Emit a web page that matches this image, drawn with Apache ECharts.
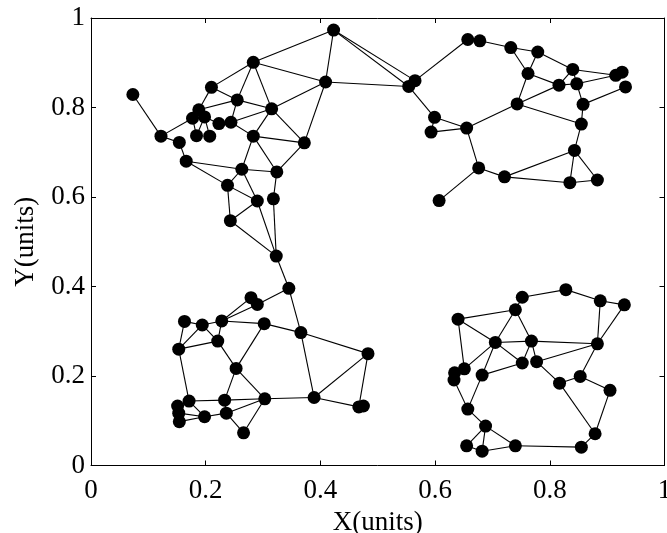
<!DOCTYPE html>
<html>
<head>
<meta charset="utf-8">
<script src="https://cdn.jsdelivr.net/npm/echarts@6/dist/echarts.min.js"></script>
<style>
  html, body { margin: 0; padding: 0; background: #fff; }
  #chart { width: 667px; height: 533px; }
</style>
</head>
<body>
<div id="chart"></div>
<script>
// Sensor node ids and their positions (units)
const nodeNames = [
  'A','B','C','D','E','F','G','H','I','J','K','L','M','N','O','P','Q','R','S','T','U','V','W','X','Y','Z',
  'x1','x2','a','b','c','d','e','f','g','h','i','j','k','l','m','n','o','p','q','r','s','t','u','v','w',
  'aa','bb','cc','dd','ee','ff','gg','hh','ii','jj','kk','ll','mm','nn','oo','pp','qq','rr','ss','tt','uu','vv','ww','xx',
  'A1','A2','A3','A4','A5','A6','A7','A8','A9','A10','A11','A12','A13a','A13b','A14','A15','A16','A17','A18','A19','A20','A21','A22','A23','A24'
];
const nodeX = [
  0.073,0.122,0.154,0.166,0.184,0.207,0.177,0.188,0.198,0.223,0.244,0.210,0.255,0.283,0.315,0.283,0.372,0.409,0.423,0.263,0.324,0.238,0.290,0.318,0.243,0.323,
  0.554,0.565,0.657,0.678,0.732,0.779,0.762,0.840,0.816,0.847,0.915,0.926,0.932,0.858,0.743,0.855,0.843,0.835,0.883,0.721,0.676,0.607,0.655,0.599,0.593,
  0.345,0.279,0.290,0.163,0.194,0.228,0.302,0.153,0.221,0.366,0.483,0.253,0.171,0.233,0.303,0.389,0.151,0.153,0.154,0.198,0.236,0.266,0.467,0.475,
  0.828,0.752,0.888,0.930,0.740,0.640,0.705,0.768,0.883,0.752,0.777,0.651,0.634,0.633,0.682,0.853,0.817,0.905,0.657,0.688,0.879,0.655,0.682,0.740,0.855
];
const nodeY = [
  0.829,0.736,0.722,0.680,0.737,0.736,0.776,0.795,0.779,0.764,0.767,0.845,0.817,0.901,0.797,0.736,0.721,0.857,0.973,0.662,0.656,0.626,0.591,0.596,0.547,0.468,
  0.847,0.860,0.952,0.949,0.934,0.924,0.876,0.885,0.850,0.853,0.872,0.879,0.846,0.807,0.808,0.763,0.704,0.632,0.638,0.645,0.665,0.592,0.754,0.778,0.745,
  0.396,0.375,0.360,0.322,0.314,0.323,0.317,0.260,0.278,0.297,0.250,0.217,0.144,0.146,0.149,0.152,0.133,0.117,0.098,0.109,0.117,0.073,0.131,0.133,
  0.393,0.376,0.368,0.359,0.348,0.327,0.275,0.278,0.272,0.229,0.232,0.216,0.207,0.191,0.202,0.199,0.184,0.168,0.126,0.088,0.071,0.044,0.032,0.044,0.041
];
// Communication links between nodes
const edges = [
  ['A','B'],['B','C'],['B','G'],['C','D'],['D','T'],['D','V'],['G','H'],['H','I'],['G','I'],['G','E'],['I','E'],['I','F'],
  ['I','J'],['J','K'],['H','L'],['L','N'],['L','M'],['H','M'],['N','M'],['N','O'],['N','S'],['N','R'],['M','K'],['M','O'],
  ['K','O'],['K','P'],['O','P'],['O','R'],['O','Q'],['S','R'],['P','Q'],['P','T'],['P','U'],['T','U'],['Q','U'],['Q','R'],
  ['T','V'],['T','W'],['V','W'],['V','Y'],['W','Y'],['W','Z'],['X','Z'],['U','X'],['Y','Z'],['Z','aa'],
  ['S','x1'],['S','x2'],['R','x1'],['x1','x2'],['x2','a'],['x1','v'],
  ['a','b'],['b','c'],['c','d'],['c','e'],['d','e'],['d','f'],['e','g'],['e','m'],['g','m'],['f','g'],['g','h'],['f','h'],
  ['f','i'],['h','i'],['i','j'],['l','h'],['l','k'],['m','n'],['n','l'],['u','m'],['v','u'],['w','u'],['v','w'],['u','s'],
  ['s','r'],['s','t'],['r','o'],['r','p'],['o','p'],['o','q'],['p','q'],['o','n'],
  ['aa','cc'],['aa','jj'],['bb','cc'],['bb','ff'],['cc','ff'],['ee','ff'],['ff','gg'],['dd','ee'],['dd','hh'],['ee','hh'],
  ['hh','ii'],['ee','ii'],['ff','ii'],['ii','ll'],['gg','ll'],['gg','jj'],['jj','pp'],['jj','kk'],['kk','pp'],['kk','ww'],
  ['pp','ww'],['pp','oo'],['ll','oo'],['ll','nn'],['mm','nn'],['nn','oo'],['hh','mm'],['qq','mm'],['mm','tt'],['rr','tt'],
  ['ss','tt'],['qq','rr'],['rr','ss'],['tt','uu'],['nn','uu'],['uu','oo'],['uu','vv'],['oo','vv'],['ww','xx'],
  ['A1','A2'],['A1','A3'],['A3','A4'],['A3','A9'],['A4','A9'],['A5','A6'],['A6','A7'],['A6','A12'],['A5','A7'],['A5','A8'],
  ['A7','A8'],['A7','A12'],['A7','A14'],['A7','A10'],['A8','A10'],['A8','A11'],['A8','A9'],['A10','A14'],['A11','A9'],
  ['A9','A15'],['A15','A16'],['A15','A17'],['A11','A16'],['A16','A20'],['A17','A20'],['A20','A24'],['A24','A23'],
  ['A23','A19'],['A19','A21'],['A19','A22'],['A21','A22'],['A22','A23'],['A19','A18'],['A18','A13b'],['A18','A14'],
  ['A12','A13a'],['A13a','A13b'],['A2','A5']
];

const serif = '"Liberation Serif", "DejaVu Serif", serif';
const tickFont = { fontFamily: serif, fontSize: 27, color: '#000' };

const nodes = nodeNames.map((n, i) => ({ name: n, value: [nodeX[i], nodeY[i]] }));
const links = edges.map(([s, t]) => ({ source: nodeNames.indexOf(s), target: nodeNames.indexOf(t) }));

const axisCommon = {
  type: 'value', min: 0, max: 1, interval: 0.2,
  axisLine: { show: true, onZero: false, lineStyle: { color: '#000', width: 1 } },
  axisTick: { show: true, inside: true, length: 5, lineStyle: { color: '#000' } },
  splitLine: { show: false }
};

const chart = echarts.init(document.getElementById('chart'), null, { renderer: 'canvas' });
chart.setOption({
  animation: false,
  backgroundColor: '#fff',
  grid: { left: 91, right: 2.5, top: 18, bottom: 67.5, containLabel: false, outerBoundsMode: 'none' },
  xAxis: [
    Object.assign({}, axisCommon, {
      position: 'bottom',
      name: 'X(units)', nameLocation: 'middle', nameGap: 31,
      nameTextStyle: { fontFamily: serif, fontSize: 27, color: '#000' },
      axisLabel: Object.assign({ margin: 12 }, tickFont)
    }),
    Object.assign({}, axisCommon, { position: 'top', axisLabel: { show: false } })
  ],
  yAxis: [
    Object.assign({}, axisCommon, {
      position: 'left',
      name: 'Y(units)', nameLocation: 'middle', nameGap: 52, nameRotate: 90,
      nameTextStyle: { fontFamily: serif, fontSize: 27, color: '#000' },
      axisLabel: Object.assign({ margin: 6 }, tickFont)
    }),
    Object.assign({}, axisCommon, { position: 'right', axisLabel: { show: false } })
  ],
  series: [{
    type: 'graph',
    coordinateSystem: 'cartesian2d',
    layout: 'none',
    symbol: 'circle',
    symbolSize: 13,
    itemStyle: { color: '#000' },
    lineStyle: { color: '#000', width: 1.1, opacity: 1 },
    label: { show: false },
    emphasis: { disabled: true },
    data: nodes,
    links: links
  }]
});
</script>
</body>
</html>
